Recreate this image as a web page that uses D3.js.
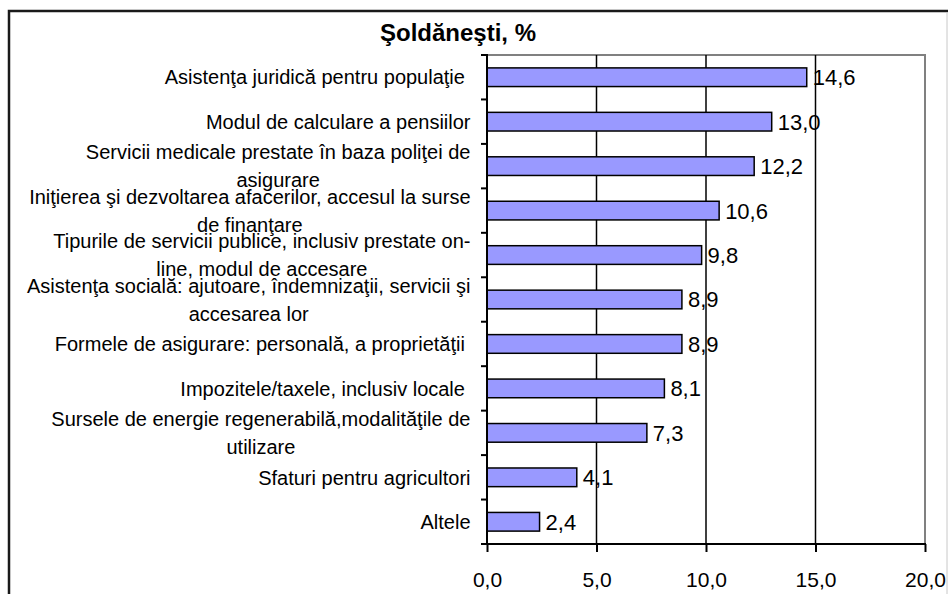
<!DOCTYPE html>
<html>
<head>
<meta charset="utf-8">
<script src="https://cdn.jsdelivr.net/npm/d3@7"></script>
<style>
  html, body { margin: 0; padding: 0; background: #fff; }
  svg { display: block; font-family: "Liberation Sans", Arial, sans-serif; }
  text { white-space: pre; }
</style>
</head>
<body>
<svg id="chart" width="948" height="594"></svg>
<script>
const title = "Şoldăneşti, %";
const categories = [
  "Asistenţa juridică pentru populaţie ",
  "Modul de calculare a pensiilor",
  "Servicii medicale prestate în baza poliţei de\nasigurare",
  "Iniţierea şi dezvoltarea afacerilor, accesul la surse\nde finanţare",
  "Tipurile de servicii publice, inclusiv prestate on-\nline, modul de accesare",
  "Asistenţa socială: ajutoare, îndemnizaţii, servicii şi\naccesarea lor",
  "Formele de asigurare: personală, a proprietăţii ",
  "Impozitele/taxele, inclusiv locale ",
  "Sursele de energie regenerabilă,modalităţile de\nutilizare",
  "Sfaturi pentru agricultori",
  "Altele"
];
const values = [14.6, 13.0, 12.2, 10.6, 9.8, 8.9, 8.9, 8.1, 7.3, 4.1, 2.4];
const valueLabels = ["14,6", "13,0", "12,2", "10,6", "9,8", "8,9", "8,9", "8,1", "7,3", "4,1", "2,4"];
const tickValues = [0, 5, 10, 15, 20];
const tickLabels = ["0,0", "5,0", "10,0", "15,0", "20,0"];

const svg = d3.select("#chart");
const W = 948, H = 594;
const plot = { left: 487, right: 925, top: 55, bottom: 544 };

// outer chart border
svg.append("rect").attr("x", 9).attr("y", 11).attr("width", W + 20).attr("height", H + 20)
  .attr("fill", "none").attr("stroke", "#1a1a1a").attr("stroke-width", 2.5);
svg.append("line").attr("x1", 947).attr("x2", 947).attr("y1", 12).attr("y2", H)
  .attr("stroke", "#c8c8c8").attr("stroke-width", 1);

const x = d3.scaleLinear().domain([0, 20]).range([plot.left, plot.right]);
const y = d3.scaleBand().domain(d3.range(categories.length))
  .range([plot.top, plot.bottom]).paddingInner(0.58).paddingOuter(0.29);
const step = y.step();

// title
svg.append("text").attr("x", 458).attr("y", 41).attr("text-anchor", "middle")
  .attr("font-size", 24).attr("font-weight", "bold").attr("fill", "#000").text(title);

// plot area border (top & right, gray)
svg.append("path")
  .attr("d", `M${plot.left},${plot.top}H${plot.right}V${plot.bottom}`)
  .attr("fill", "none").attr("stroke", "#808080").attr("stroke-width", 2);

// gridlines
svg.append("g").selectAll("line").data(tickValues.filter(v => v > 0 && v < 20)).join("line")
  .attr("x1", d => x(d)).attr("x2", d => x(d))
  .attr("y1", plot.top).attr("y2", plot.bottom)
  .attr("stroke", "#000").attr("stroke-width", 1.5);

// bars
svg.append("g").selectAll("rect").data(values).join("rect")
  .attr("x", x(0)).attr("y", (d, i) => y(i))
  .attr("width", d => x(d) - x(0)).attr("height", y.bandwidth())
  .attr("fill", "#9999FF").attr("stroke", "#000").attr("stroke-width", 1.5);

// data labels
svg.append("g").selectAll("text").data(values).join("text")
  .attr("x", d => x(d) + 6).attr("y", (d, i) => y(i) + y.bandwidth() / 2)
  .attr("dy", "0.36em").attr("font-size", 22).attr("fill", "#000")
  .text((d, i) => valueLabels[i]);

// x axis
const xAxis = d3.axisBottom(x).tickValues(tickValues).tickSize(8).tickPadding(23)
  .tickFormat((d, i) => tickLabels[i]);
const gx = svg.append("g").attr("transform", `translate(0,${plot.bottom})`).call(xAxis);
gx.select(".domain").remove();
gx.selectAll(".tick line").attr("stroke", "#000").attr("stroke-width", 2);
gx.selectAll(".tick text").attr("font-size", 21).attr("font-family", "Liberation Sans, Arial, sans-serif")
  .attr("fill", "#000").attr("dy", "0.55em");
gx.append("line").attr("x1", plot.left - 6).attr("x2", plot.right + 1).attr("y1", 0).attr("y2", 0)
  .attr("stroke", "#000").attr("stroke-width", 2);

// y axis line and category boundary ticks
const gy = svg.append("g");
gy.append("line").attr("x1", plot.left).attr("x2", plot.left).attr("y1", plot.top - 1).attr("y2", plot.bottom)
  .attr("stroke", "#000").attr("stroke-width", 2);
gy.selectAll("line.tk").data(d3.range(categories.length + 1)).join("line").attr("class", "tk")
  .attr("x1", plot.left - 6).attr("x2", plot.left)
  .attr("y1", d => plot.top + d * step).attr("y2", d => plot.top + d * step)
  .attr("stroke", "#000").attr("stroke-width", 2);

// category labels: block right-aligned, lines centered within the block
const labelRight = 470.5, fs = 20, lh = 28;
categories.forEach((c, i) => {
  const lines = c.split("\n");
  const cy = y(i) + y.bandwidth() / 2;
  const g = svg.append("g");
  const texts = lines.map((ln, k) => g.append("text")
    .attr("font-size", fs).attr("fill", "#000")
    .attr("y", cy + (k - (lines.length - 1) / 2) * lh).attr("dy", "0.36em")
    .text(ln));
  const widths = texts.map(t => t.node().getComputedTextLength());
  const maxW = d3.max(widths);
  const center = labelRight - maxW / 2;
  texts.forEach(t => t.attr("x", center).attr("text-anchor", "middle"));
});
</script>
</body>
</html>
